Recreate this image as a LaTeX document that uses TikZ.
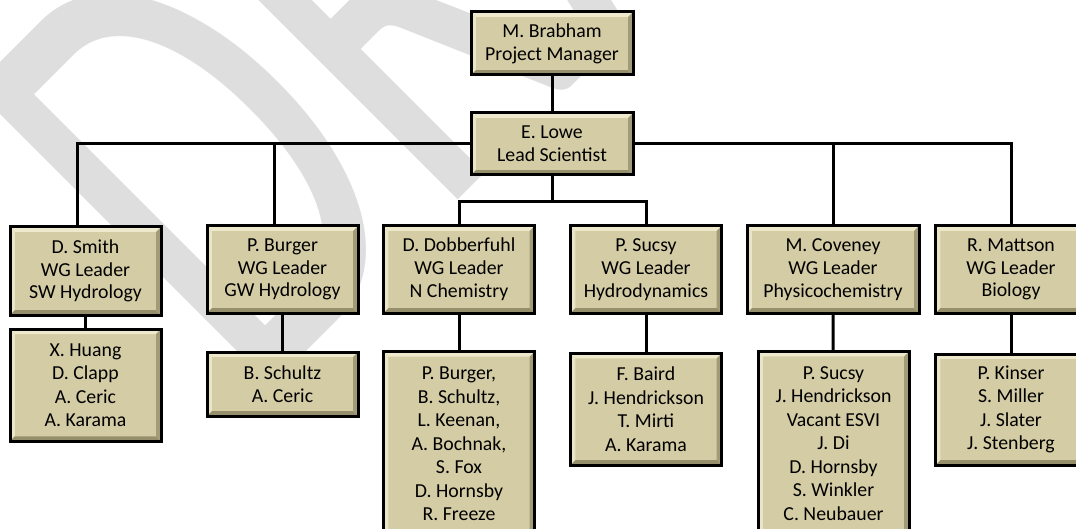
\documentclass[tikz,border=0pt]{standalone}
\usepackage{fontspec}
\setmainfont{Carlito}
\usetikzlibrary{calc}
\definecolor{boxfill}{RGB}{212,204,165}
\definecolor{bevlight}{RGB}{238,233,204}
\definecolor{bevdark}{RGB}{150,143,108}
\definecolor{wmgray}{RGB}{222,222,222}
\pgfdeclarelayer{wm}
\pgfdeclarelayer{bg}
\pgfsetlayers{wm,bg,main}

\begin{document}
\begin{tikzpicture}[x=0.5pt,y=-0.5pt,
  orgbox/.style={draw=black, line width=1.5pt, fill=boxfill, align=center,
    inner sep=0pt, minimum width=75.5pt, text=black,
    execute at begin node={\rule{0pt}{9pt}},
    path picture={
      \fill[bevlight] (path picture bounding box.north west) -- (path picture bounding box.north east)
        -- ([shift={(-2.4pt,-2.4pt)}]path picture bounding box.north east)
        -- ([shift={(2.4pt,-2.4pt)}]path picture bounding box.north west) -- cycle;
      \fill[bevlight!85!boxfill] (path picture bounding box.north west) -- (path picture bounding box.south west)
        -- ([shift={(2.4pt,2.4pt)}]path picture bounding box.south west)
        -- ([shift={(2.4pt,-2.4pt)}]path picture bounding box.north west) -- cycle;
      \fill[bevdark] (path picture bounding box.south west) -- (path picture bounding box.south east)
        -- ([shift={(-2.4pt,2.4pt)}]path picture bounding box.south east)
        -- ([shift={(2.4pt,2.4pt)}]path picture bounding box.south west) -- cycle;
      \fill[bevdark!80!boxfill] (path picture bounding box.north east) -- (path picture bounding box.south east)
        -- ([shift={(-2.4pt,2.4pt)}]path picture bounding box.south east)
        -- ([shift={(-2.4pt,-2.4pt)}]path picture bounding box.north east) -- cycle;
    }},
  headbox/.style={orgbox, font=\fontsize{9.9pt}{11.4pt}\selectfont},
  memberbox/.style={orgbox, font=\fontsize{9.9pt}{11.75pt}\selectfont},
  link/.style={draw=black, line width=1.5pt},
  wmtext/.style={text=wmgray, inner sep=0pt, font=\fontsize{328pt}{330pt}\selectfont}
]
\useasboundingbox (0,0) rectangle (1076,529);
\clip (0,0) rectangle (1076,529);

% paper and watermark
\begin{pgfonlayer}{wm}
  \fill[white] (0,0) rectangle (1076,529);
  \node[wmtext, rotate=45, anchor=base west] (draftmark) at (251,407) {\scalebox{0.65}[1]{DRAFT}};
\end{pgfonlayer}

% management
\node[headbox, minimum width=81pt, minimum height=31.5pt] (brabham) at (552,43.5) {M. Brabham\\Project Manager};
\node[headbox, minimum width=81pt, minimum height=31pt] (lowe) at (552,144) {E. Lowe\\Lead Scientist};

% working group leaders
\node[headbox, minimum height=44pt] (smith)   at (85.5,271)  {D. Smith\\WG Leader\\SW Hydrology};
\node[headbox, minimum height=43.5pt] (burger)  at (282.5,269.5) {P. Burger\\WG Leader\\GW Hydrology};
\node[headbox, minimum height=43.5pt] (dobber)  at (459,269.5) {D. Dobberfuhl\\WG Leader\\N Chemistry};
\node[headbox, minimum height=43.5pt] (sucsy)   at (646,269.5) {P. Sucsy\\WG Leader\\Hydrodynamics};
\node[headbox, minimum height=43.5pt, minimum width=86pt] (coveney) at (833,269.5) {M. Coveney\\WG Leader\\Physicochemistry};
\node[headbox, minimum height=43.5pt] (mattson) at (1011,269.5) {R. Mattson\\WG Leader\\Biology};

% working group members
\node[memberbox, minimum height=56pt] (smithm) at (85.5,385.2) {X. Huang\\D. Clapp\\A. Ceric\\A. Karama};
\node[memberbox, minimum height=32pt] (burgerm) at (282.5,384) {B. Schultz\\A. Ceric};
\node[memberbox, minimum height=92pt] (dobberm) at (459,443.8) {P. Burger,\\B. Schultz,\\L. Keenan,\\A. Bochnak,\\S. Fox\\D. Hornsby\\R. Freeze};
\node[memberbox, minimum height=55.7pt] (sucsym) at (646,409.3) {F. Baird\\J. Hendrickson\\T. Mirti\\A. Karama};
\node[memberbox, minimum height=92pt] (coveneym) at (833.5,443.5) {P. Sucsy\\J. Hendrickson\\Vacant ESVI\\J. Di\\D. Hornsby\\S. Winkler\\C. Neubauer};
\node[memberbox, minimum height=55.5pt] (mattsonm) at (1011,409.5) {P. Kinser\\S. Miller\\J. Slater\\J. Stenberg};

% reporting lines
\coordinate (split) at (552,202);
\begin{pgfonlayer}{bg}
  \draw[link] (brabham) -- (lowe);
  \draw[link] (lowe.west) -| ($(smith.north)+(-8,0)$);
  \draw[link] (lowe.west) -| ($(burger.north)+(-8.5,0)$);
  \draw[link] (lowe.east) -| (coveney.north);
  \draw[link] (lowe.east) -| (mattson.north);
  \draw[link] (lowe) -- (split);
  \draw[link] (split) -| (dobber.north);
  \draw[link] (split) -| (sucsy.north);
  \draw[link] (smith) -- (smithm);
  \draw[link] (burger) -- (burgerm);
  \draw[link] (dobber) -- (dobberm);
  \draw[link] (sucsy) -- (sucsym);
  \draw[link] (coveney) -- (coveneym);
  \draw[link] (mattson) -- (mattsonm);
\end{pgfonlayer}
\end{tikzpicture}
\end{document}
